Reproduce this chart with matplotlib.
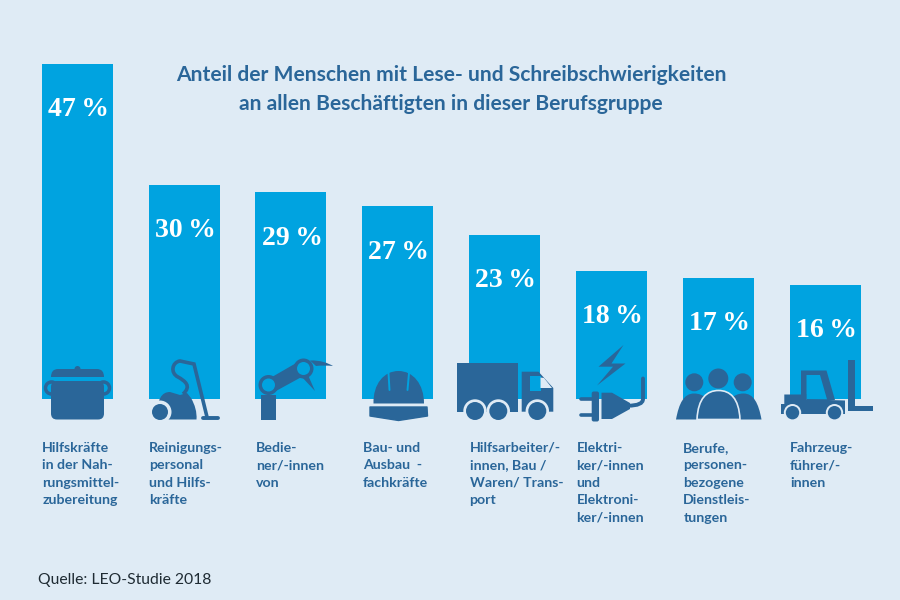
import numpy as np
import matplotlib
matplotlib.use("Agg")
import matplotlib.pyplot as plt
from matplotlib.patches import Circle, Polygon, Rectangle, FancyBboxPatch, PathPatch
from matplotlib.path import Path

BG = '#dfebf5'
BAR = '#00a3e0'
DARK = '#2a6699'

title_lines = ["Anteil der Menschen mit Lese- und Schreibschwierigkeiten",
               "an allen Beschäftigten in dieser Berufsgruppe"]
source = "Quelle: LEO-Studie 2018"
percent = [47, 30, 29, 27, 23, 18, 17, 16]
jobs = [
    "Hilfskräfte\nin der Nah-\nrungsmittel-\nzubereitung",
    "Reinigungs-\npersonal\nund Hilfs-\nkräfte",
    "Bedie-\nner/-innen\nvon",
    "Bau- und\nAusbau  -\nfachkräfte",
    "Hilfsarbeiter/-\ninnen, Bau /\nWaren/ Trans-\nport",
    "Elektri-\nker/-innen\nund\nElektroni-\nker/-innen",
    "Berufe,\npersonen-\nbezogene\nDienstleis-\ntungen",
    "Fahrzeug-\nführer/-\ninnen",
]


def curve(ax, verts, codes, **kw):
    kw.setdefault('fc', DARK)
    kw.setdefault('ec', 'none')
    ax.add_patch(PathPatch(Path(verts, codes), **kw))


def stroke(ax, xs, ys, lw, color=DARK):
    ax.plot(xs, ys, color=color, lw=lw, solid_capstyle='round', solid_joinstyle='round')


def wheel(ax, x, y, r, halo):
    ax.add_patch(Circle((x, y), halo, fc=BG, ec='none'))
    ax.add_patch(Circle((x, y), r, fc=DARK, ec='none'))


def pot(ax):
    for x in (51.5, 103.5):
        ax.add_patch(Circle((x, 388), 6, fc='none', ec=DARK, lw=2.5))
    ax.add_patch(FancyBboxPatch((51, 381), 53, 38.5, boxstyle='round,pad=0,rounding_size=6', fc=DARK, ec='none'))
    curve(ax, [(51, 377), (51, 369), (58, 369), (97, 369), (104, 369), (104, 377), (51, 377)],
          [Path.MOVETO, Path.CURVE3, Path.CURVE3, Path.LINETO, Path.CURVE3, Path.CURVE3, Path.CLOSEPOLY])
    ax.add_patch(Circle((77.5, 369), 3, fc=DARK, ec='none'))


def vacuum(ax):
    M, L, C = Path.MOVETO, Path.LINETO, Path.CURVE4
    curve(ax, [(156, 419.5), (157, 398), (162, 392), (170, 392), (180, 395), (187, 393), (191, 398),
               (195, 405), (197, 412), (196.5, 419.5), (156, 419.5)],
          [M, C, C, C, L, L, L, C, C, C, Path.CLOSEPOLY])
    wheel(ax, 160, 412, 8, 11.5)
    curve(ax, [(183, 394), (192, 386), (185, 381), (178, 377), (170, 373), (172, 362),
               (180, 361), (194, 364), (207, 417)],
          [M, C, C, C, C, C, C, L, L], fc='none', ec=DARK, lw=2.6)
    stroke(ax, [203, 218], [417.5, 417.5], 2.8)


def robot(ax):
    ax.add_patch(Rectangle((261, 395), 14.7, 24.5, fc=DARK, ec='none'))
    ax.add_patch(Polygon([(272, 377), (298, 362), (307, 374), (276, 391)], fc=DARK, ec='none'))
    curve(ax, [(310, 360.5), (320, 360), (328, 363), (333, 366), (324, 365), (316, 366), (310, 360.5)],
          [Path.MOVETO, Path.CURVE4, Path.CURVE4, Path.CURVE4, Path.CURVE3, Path.CURVE3, Path.CLOSEPOLY])
    ax.add_patch(Polygon([(301, 376), (308, 375), (315, 391)], fc=DARK, ec='none'))
    for x, y in [(268.5, 385), (303.5, 368.5)]:
        ax.add_patch(Circle((x, y), 10, fc=DARK, ec='none'))
        ax.add_patch(Circle((x, y), 6.5, fc=BAR, ec='none'))


def helmet(ax):
    M, C = Path.MOVETO, Path.CURVE4
    curve(ax, [(373.5, 403.5), (373, 384), (384, 371), (398.5, 371), (413, 371), (424, 384), (424, 403.5), (373.5, 403.5)],
          [M, C, C, C, C, C, C, Path.CLOSEPOLY])
    stroke(ax, [388.5, 389.5], [373, 390], 1.4, BAR)
    stroke(ax, [409, 407.5], [373, 390], 1.4, BAR)
    ax.add_patch(Polygon([(370, 407), (427, 407), (427.5, 416), (398.5, 420.5), (370, 416)],
                         fc=DARK, ec=DARK, lw=1, joinstyle='round'))


def truck(ax):
    ax.add_patch(Rectangle((456.7, 362.7), 61.6, 49, fc=DARK, ec='none'))
    ax.add_patch(Polygon([(521.7, 371.7), (538.5, 371.7), (553.3, 388), (553.3, 411.7), (521.7, 411.7)], fc=DARK, ec='none'))
    ax.add_patch(Rectangle((530, 376), 10.5, 14.5, fc=BAR, ec='none'))
    ax.add_patch(Polygon([(540.5, 377.5), (544, 378), (552, 388), (540.5, 388)], fc=BG, ec='none'))
    for x in (475, 498.3, 537.3):
        wheel(ax, x, 411, 9, 11.7)


def plug(ax):
    M, L, C = Path.MOVETO, Path.LINETO, Path.CURVE3
    ax.add_patch(Polygon([(623.5, 345), (598.5, 366.7), (613, 366.7), (597, 385.5),
                          (625.5, 363.5), (611.5, 363.5)], fc=DARK, ec='none'))
    stroke(ax, [580.5, 592], [398.5, 398.5], 2.6)
    stroke(ax, [580.5, 592], [414.5, 414.5], 2.6)
    ax.add_patch(FancyBboxPatch((591.7, 391.5), 7.3, 30, boxstyle='round,pad=0,rounding_size=2', fc=DARK, ec='none'))
    ax.add_patch(Polygon([(601.5, 392.7), (612, 392.7), (630, 403), (630, 409), (612, 419), (601.5, 419)], fc=DARK, ec='none'))
    curve(ax, [(628, 405.7), (643, 405.7), (643, 399), (643, 378.5)], [M, C, C, L], fc='none', ec=DARK, lw=2.8, capstyle='round')


def people(ax):
    M, C = Path.MOVETO, Path.CURVE4
    for x, y, r in [(694.3, 382.3, 9), (718.3, 378.5, 10), (742.7, 382.3, 9)]:
        ax.add_patch(Circle((x, y), r, fc=DARK, ec='none'))
    curve(ax, [(676, 419.5), (679, 403), (684, 393.5), (694, 393.5), (704, 393.5), (712, 400), (712, 419.5), (676, 419.5)],
          [M, C, C, C, C, C, C, Path.CLOSEPOLY])
    curve(ax, [(761.5, 419.5), (758.5, 403), (753.5, 393.5), (743.5, 393.5), (733.5, 393.5), (725.5, 400), (725.5, 419.5), (761.5, 419.5)],
          [M, C, C, C, C, C, C, Path.CLOSEPOLY])
    curve(ax, [(697, 419.5), (698, 398), (707, 390.5), (718.5, 390.5), (730, 390.5), (739, 398), (740, 419.5), (697, 419.5)],
          [M, C, C, C, C, C, C, Path.CLOSEPOLY], ec=BG, lw=1.2)


def forklift(ax):
    ax.add_patch(Polygon([(801, 370.5), (826.5, 370.5), (835, 400), (806.5, 400), (806.5, 395), (801, 395)], fc=DARK, ec='none'))
    ax.add_patch(Polygon([(806.5, 375), (820, 375), (827, 399.3), (806.5, 399.3)], fc=BAR, ec='none'))
    ax.add_patch(Polygon([(781, 404), (784.3, 404), (784.3, 394.5), (806.5, 394.5), (806.5, 399.3),
                          (845, 400.5), (845, 414), (781, 414)], fc=DARK, ec='none'))
    ax.add_patch(Rectangle((848, 360), 7, 50, fc=DARK, ec='none'))
    ax.add_patch(Rectangle((848, 406), 24.7, 4.7, fc=DARK, ec='none'))
    for x in (792.5, 834.5):
        wheel(ax, x, 412.7, 6.7, 8.7)


fig = plt.figure(figsize=(9, 6), dpi=100, facecolor=BG)

# bars sit on y=399 px, 7.13 px per percent point
ax = fig.add_axes([0, 201 / 600, 1, 399 / 600])
x = np.arange(len(percent))
ax.bar(x, percent, width=71 / 106.85, color=BAR, linewidth=0)
ax.set_xlim(-77.2 / 106.85, (900 - 77.2) / 106.85)
ax.set_ylim(0, 399 / 7.13)
ax.axis('off')

for i, v in enumerate(percent):
    ax.annotate(f"{v}\u2009%", (i, v), xytext=(0.8, -33), textcoords='offset points',
                ha='center', va='center', color='white', fontsize=20,
                family='Liberation Serif', fontweight='bold')

# overlay in pixels for icons and text
ov = fig.add_axes([0, 0, 1, 1])
ov.set_xlim(0, 900)
ov.set_ylim(600, 0)
ov.axis('off')
ov.patch.set_alpha(0)

for draw in (pot, vacuum, robot, helmet, truck, plug, people, forklift):
    draw(ov)

for n, line in enumerate(title_lines):
    ov.text(451, 81 + 29.5 * n, line, ha='center', va='baseline', color=DARK, fontsize=15.15,
            family='Lato', fontweight='bold')

# one text per line so the baselines stay on the same 17.5 px grid
for i, job in enumerate(jobs):
    for n, line in enumerate(job.split("\n")):
        ov.text(77.2 + 106.85 * i - 35, 451.7 + 17.5 * n, line, ha='left', va='baseline', color=DARK,
                fontsize=10.2, family='Lato', fontweight='bold')

ov.text(38, 580, source, ha='left', va='center', color='#1f2b33', fontsize=11.3, family='Lato')

fig.savefig('out.png', dpi=100, facecolor=BG)
